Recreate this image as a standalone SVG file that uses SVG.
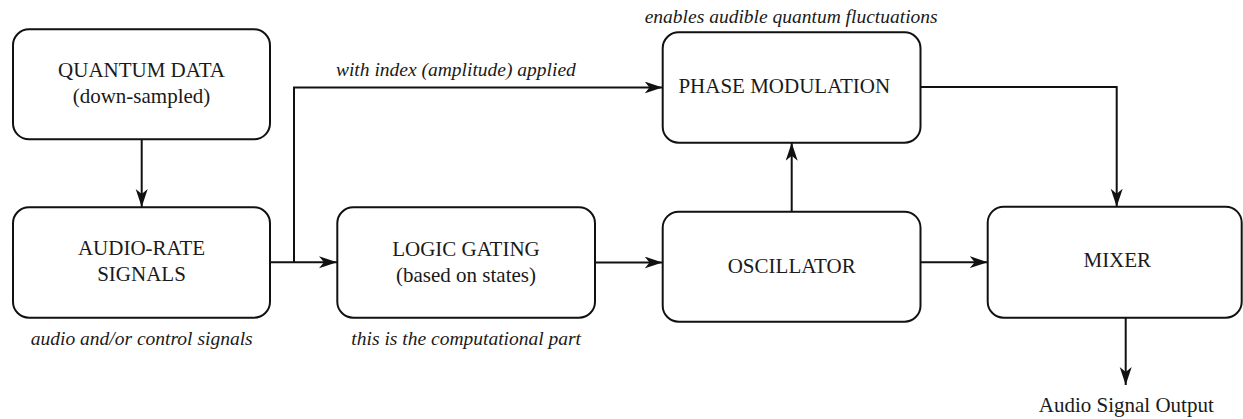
<svg xmlns="http://www.w3.org/2000/svg" width="1243" height="419" viewBox="0 0 1243 419">
<defs>
<marker id="ah" markerUnits="userSpaceOnUse" markerWidth="20" markerHeight="14" refX="18" refY="6" orient="auto">
<path d="M0,0 L18,6 L0,12 L5,6 Z" fill="#111"/>
</marker>
<style>
.box{fill:#fff;stroke:#111;stroke-width:2}
text{font-family:'Liberation Serif','Times New Roman',serif;fill:#1a1a1a;text-anchor:middle}
.lbl{font-size:21px}
.note{font-style:italic;font-size:19.5px}
.con{fill:none;stroke:#111;stroke-width:2}
</style>
</defs>
<rect width="1243" height="419" fill="#fff"/>
<g id="connectors">
<path class="con" d="M141.7,139.3 V207" marker-end="url(#ah)"/>
<path class="con" d="M270,262.3 H337" marker-end="url(#ah)"/>
<path class="con" d="M294,262.3 V87.5 H662.5" marker-end="url(#ah)"/>
<path class="con" d="M595,262.5 H662.5" marker-end="url(#ah)"/>
<path class="con" d="M791.7,211.7 V142.7" marker-end="url(#ah)"/>
<path class="con" d="M920.5,87 H1116.7 V206.7" marker-end="url(#ah)"/>
<path class="con" d="M920.5,262.2 H987.7" marker-end="url(#ah)"/>
<path class="con" d="M1125.7,317.7 V385" marker-end="url(#ah)"/>
</g>
<g id="quantum-data" font-family="Liberation Serif, serif">
<rect class="box" x="13" y="29.3" width="257" height="110" rx="16"/>
<text class="lbl" x="141.5" y="77.3">QUANTUM DATA</text>
<text class="lbl" x="141.5" y="103">(down-sampled)</text>
</g>
<g id="audio-rate" font-family="Liberation Serif, serif">
<rect class="box" x="13" y="207.3" width="257" height="110.4" rx="16"/>
<text class="lbl" x="141.5" y="255">AUDIO-RATE</text>
<text class="lbl" x="141.5" y="281">SIGNALS</text>
<text class="note" x="141.7" y="345">audio and/or control signals</text>
</g>
<g id="logic-gating" font-family="Liberation Serif, serif">
<rect class="box" x="337.3" y="207.3" width="257.7" height="110.4" rx="16"/>
<text class="lbl" x="466" y="256">LOGIC GATING</text>
<text class="lbl" x="466" y="281.5">(based on states)</text>
<text class="note" x="466.2" y="345">this is the computational part</text>
</g>
<g id="phase-modulation" font-family="Liberation Serif, serif">
<rect class="box" x="662.7" y="32.3" width="257.8" height="110.4" rx="16"/>
<text class="lbl" x="784.3" y="92.7">PHASE MODULATION</text>
<text class="note" x="791.2" y="23">enables audible quantum fluctuations</text>
</g>
<g id="oscillator" font-family="Liberation Serif, serif">
<rect class="box" x="662.7" y="211.7" width="257.8" height="110" rx="16"/>
<text class="lbl" x="791.7" y="272.7">OSCILLATOR</text>
</g>
<g id="mixer" font-family="Liberation Serif, serif">
<rect class="box" x="987.7" y="206.7" width="254" height="111" rx="16"/>
<text class="lbl" x="1117.3" y="267.3">MIXER</text>
</g>
<g id="labels" font-family="Liberation Serif, serif">
<text class="note" x="455.9" y="76">with index (amplitude) applied</text>
<text class="lbl" x="1126.3" y="411.7">Audio Signal Output</text>
</g>
</svg>
